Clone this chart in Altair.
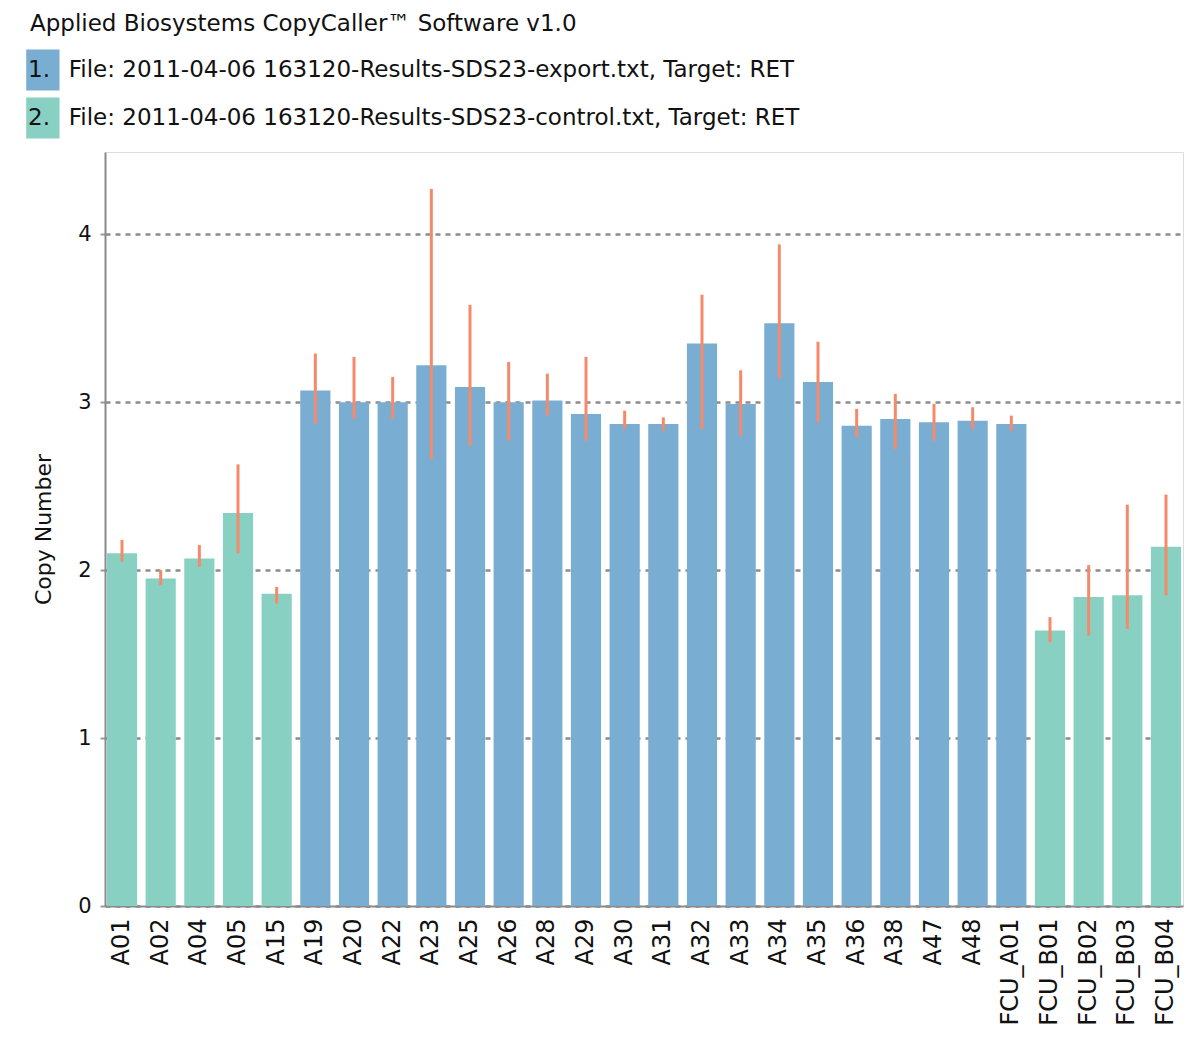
import altair as alt
import pandas as pd

title_text = "Applied Biosystems CopyCaller\u2122 Software v1.0"

samples = ["A01", "A02", "A04", "A05", "A15", "A19", "A20", "A22", "A23", "A25",
           "A26", "A28", "A29", "A30", "A31", "A32", "A33", "A34", "A35", "A36",
           "A38", "A47", "A48", "FCU_A01", "FCU_B01", "FCU_B02", "FCU_B03", "FCU_B04"]
copy_number = [2.10, 1.95, 2.07, 2.34, 1.86, 3.07, 3.00, 3.00, 3.22, 3.09,
               3.00, 3.01, 2.93, 2.87, 2.87, 3.35, 2.99, 3.47, 3.12, 2.86,
               2.90, 2.88, 2.89, 2.87, 1.64, 1.84, 1.85, 2.14]
err_low = [2.05, 1.91, 2.02, 2.10, 1.80, 2.87, 2.90, 2.90, 2.66, 2.74,
           2.77, 2.92, 2.77, 2.84, 2.83, 2.84, 2.80, 3.14, 2.88, 2.79,
           2.72, 2.77, 2.84, 2.83, 1.57, 1.61, 1.65, 1.85]
err_high = [2.18, 2.00, 2.15, 2.63, 1.90, 3.29, 3.27, 3.15, 4.27, 3.58,
            3.24, 3.17, 3.27, 2.95, 2.91, 3.64, 3.19, 3.94, 3.36, 2.96,
            3.05, 2.99, 2.97, 2.92, 1.72, 2.03, 2.39, 2.45]
file_group = ["control", "control", "control", "control", "control",
              "export", "export", "export", "export", "export",
              "export", "export", "export", "export", "export",
              "export", "export", "export", "export", "export",
              "export", "export", "export", "export",
              "control", "control", "control", "control"]

file_labels = {
    "export": "1.\u2002\u00a0File: 2011-04-06 163120-Results-SDS23-export.txt, Target: RET",
    "control": "2.\u2002\u00a0File: 2011-04-06 163120-Results-SDS23-control.txt, Target: RET",
}
legend_order = [file_labels["export"], file_labels["control"]]
colors = ["#7aadd2", "#88d0c2"]

df = pd.DataFrame({
    "sample": samples,
    "copy": copy_number,
    "lo": err_low,
    "hi": err_high,
    "file": [file_labels[g] for g in file_group],
})
title_df = pd.DataFrame({"t": [title_text]})

FONT = "DejaVu Sans"

x_enc = alt.X("sample:N", sort=samples,
              scale=alt.Scale(paddingInner=0.22, paddingOuter=0.05),
              axis=alt.Axis(title=None, labelAngle=-90, labelFont=FONT, labelFontSize=24,
                            labelColor="#111", ticks=False, labelPadding=12,
                            domainColor="#8a8a8a", domainWidth=2, grid=False))

y_scale = alt.Scale(domain=[0, 4.49], nice=False)

# box symbol drawn to the right of the symbol anchor so it sits under the "1." / "2." label prefix
box_path = "M2.43,-5.125H10.76V5.125H2.43Z"

bars = alt.Chart(df).mark_bar().encode(
    x=x_enc,
    y=alt.Y("copy:Q", scale=y_scale,
            axis=alt.Axis(title="Copy Number", values=[0, 1, 2, 3, 4], format="d",
                          labelFont=FONT, labelFontSize=21, labelColor="#111",
                          labelPadding=9, tickSize=5, tickColor="#999", tickWidth=2,
                          titleFont=FONT, titleFontSize=22, titleFontWeight="normal",
                          titleColor="#111", titlePadding=22,
                          domainColor="#8a8a8a", domainWidth=2,
                          grid=True, gridColor="#8c8c8c", gridDash=[5, 5], gridWidth=2.5)),
    color=alt.Color("file:N", scale=alt.Scale(domain=legend_order, range=colors),
                    legend=alt.Legend(title=None, orient="none", legendX=-100, legendY=-93.5,
                                      direction="vertical", padding=0,
                                      symbolType=box_path, symbolSize=64,
                                      symbolStrokeWidth=0, symbolOpacity=1,
                                      labelFont=FONT, labelFontSize=23, labelColor="#111",
                                      labelOffset=0, labelLimit=1200, rowPadding=7)),
)

errs = alt.Chart(df).mark_rule(color="#f58a6a", strokeWidth=3).encode(
    x=alt.X("sample:N", sort=samples),
    y=alt.Y("lo:Q", scale=y_scale),
    y2="hi:Q",
)

title_mark = alt.Chart(title_df).mark_text(
    align="left", baseline="alphabetic", font=FONT, fontSize=23, color="#111"
).encode(x=alt.value(-75), y=alt.value(-121), text="t:N")

chart = alt.layer(bars, errs, title_mark).properties(
    width=1078,
    height=754,
    padding={"left": 97, "top": 144, "right": 8, "bottom": 125},
    autosize=alt.AutoSizeParams(type="none"),
).configure_view(stroke="#bdbdbd", strokeWidth=2).configure(background="white")

chart.save("out.html", embed_options={"renderer": "svg", "actions": False})
